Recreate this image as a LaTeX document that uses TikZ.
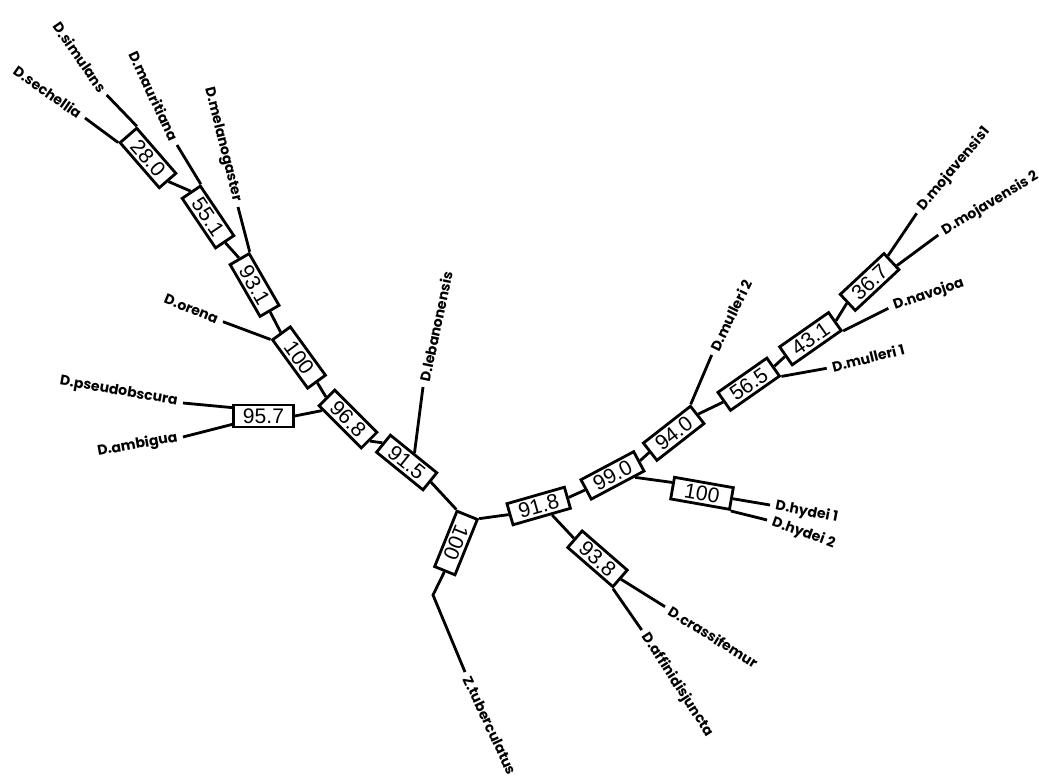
\documentclass[tikz,border=0pt]{standalone}
\usepackage{fontspec}
\setmainfont{Liberation Sans}
\newfontfamily\leaffont{Poppins}
\usetikzlibrary{positioning}

\begin{document}
\begin{tikzpicture}[-,x=0.02cm,y=-0.02cm,line width=1.6pt]
  \tikzstyle{boot} = [draw,fill=white,inner sep=0pt,minimum width=34pt,minimum height=12.5pt,font=\fontsize{12}{12}\selectfont]
  \tikzstyle{leaf} = [inner sep=2.5pt,font=\leaffont\bfseries\fontsize{8}{8}\selectfont]
  \useasboundingbox (0,0) rectangle (1039,781);

  % bootstrap boxes on the inner branches
  \node[boot,rotate=-49]  (b280)  at (148,158)   {28.0};
  \node[boot,rotate=-56]  (b551)  at (208,217)   {55.1};
  \node[boot,rotate=-60]  (b931)  at (254.6,285) {93.1};
  \node[boot,rotate=-54]  (b100o) at (299,357.5) {100};
  \node[boot,rotate=-45]  (b968)  at (348,419)   {96.8};
  \node[boot]             (b957)  at (263.5,416) {95.7};
  \node[boot,rotate=-39]  (b915)  at (406.7,462.5) {91.5};
  \node[boot,rotate=-112] (b100z) at (456,543)   {100};
  \node[boot,rotate=16]   (b918)  at (538.7,506) {91.8};
  \node[boot,rotate=-41]  (b938)  at (597.5,558.8) {93.8};
  \node[boot,rotate=28]   (b990)  at (612.5,475.4) {99.0};
  \node[boot,rotate=-10]  (b100h) at (702,493.3) {100};
  \node[boot,rotate=38]   (b940)  at (673.7,433.3) {94.0};
  \node[boot,rotate=35]   (b565)  at (748.7,384.2) {56.5};
  \node[boot,rotate=35]   (b431)  at (810.4,338.7) {43.1};
  \node[boot,rotate=43]   (b367)  at (869.6,282)   {36.7};

  % species
  \node[leaf,rotate=-35,anchor=east] (sech)  at (85,118)    {D.sechellia};
  \node[leaf,rotate=-55,anchor=east] (sim)   at (106.7,95)  {D.simulans};
  \node[leaf,rotate=-65,anchor=east] (maur)  at (177,145)   {D.mauritiana};
  \node[leaf,rotate=-76,anchor=east] (mela)  at (238,207)   {D.melanogaster};
  \node[leaf,rotate=-22,anchor=east] (orena) at (223,321.7) {D.orena};
  \node[leaf,rotate=-10,anchor=east] (pseu)  at (183,403)   {D.pseudobscura};
  \node[leaf,rotate=10,anchor=east]  (ambi)  at (183,437)   {D.ambigua};
  \node[leaf,rotate=78,anchor=west]  (leban) at (423,387)   {D.lebanonensis};
  \node[leaf,rotate=-65,anchor=west] (ztub)  at (465,672)   {Z.tuberculatus};
  \node[leaf,rotate=-57,anchor=west] (affi)  at (641.7,630) {D.affinidisjuncta};
  \node[leaf,rotate=-32,anchor=west] (cras)  at (665,606.7) {D.crassifemur};
  \node[leaf,rotate=-20,anchor=west] (hyd2)  at (767,520)   {D.hydei 2};
  \node[leaf,rotate=-11,anchor=west] (hyd1)  at (770,505)   {D.hydei 1};
  \node[leaf,rotate=14,anchor=west]  (mul1)  at (826.7,368.3) {D.mulleri 1};
  \node[leaf,rotate=64,anchor=west]  (mul2)  at (711.7,355) {D.mulleri 2};
  \node[leaf,rotate=19,anchor=west]  (navo)  at (888.3,308.3) {D.navojoa};
  \node[leaf,rotate=50,anchor=west]  (moj1)  at (916.7,213.3) {D.mojavensis1};
  \node[leaf,rotate=31,anchor=west]  (moj2)  at (938.3,235) {D.mojavensis 2};
  \coordinate (zbend) at (433,595);

  % backbone
  \path (b280.east) edge (b551.west);
  \path (b551.east) edge (b931.west);
  \path (b931.east) edge (b100o.west);
  \path (b100o.east) edge (b968.west);
  \path (b968.east) edge (b915.west);
  \path (b915.east) edge (b100z.south west);
  \path (b100z.north west) edge (b918.west);
  \path (b918.east) edge (b990.west);
  \path (b990.east) edge (b940.west);
  \path (b940.east) edge (b565.west);
  \path (b565.east) edge (b431.west);
  \path (b431.east) edge (b367.west);
  \path (b957.east) edge (b968.207);
  \path (b918.310) edge (b938.west);
  \path (b990.327) edge (b100h.170);

  % terminal branches
  \path (b280.south west) edge (sech.east);
  \path (b280.north west) edge (sim.east);
  \path (b551.north west) edge (maur.east);
  \path (b931.north west) edge (mela.east);
  \path (b100o.south west) edge (orena.east);
  \path (b957.165) edge (pseu.east);
  \path (b957.195) edge (ambi.east);
  \path (b915.north) edge (leban.west);
  \draw (b100z.east) -- (zbend) -- (ztub.west);
  \path (b938.east) edge (cras.west);
  \path (b938.south east) edge (affi.west);
  \path (b100h.east) edge (hyd1.west);
  \path (b100h.south east) edge (hyd2.west);
  \path (b940.north east) edge (mul2.west);
  \path (b565.south east) edge (mul1.west);
  \path (b431.south east) edge (navo.west);
  \path (b367.12) edge (moj1.west);
  \path (b367.348) edge (moj2.west);
\end{tikzpicture}
\end{document}
